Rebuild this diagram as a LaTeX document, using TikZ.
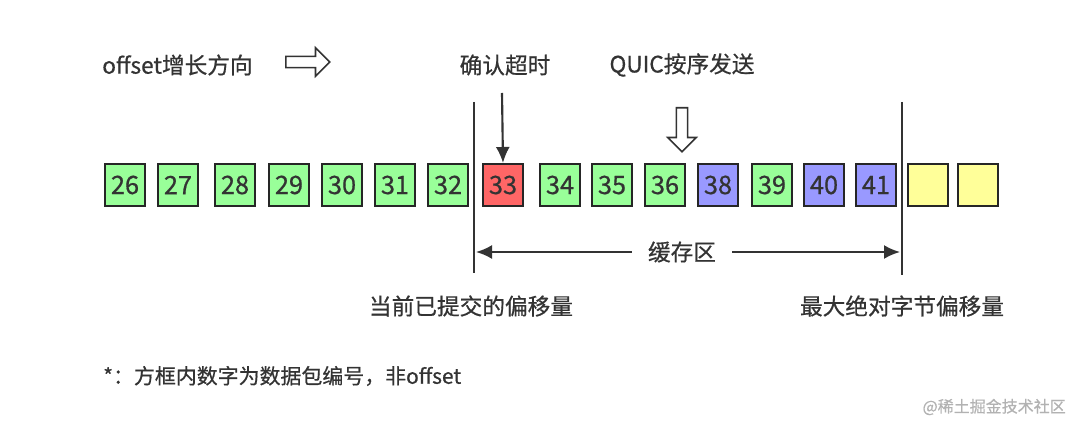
\documentclass[tikz,border=0pt]{standalone}
\usepackage{fontspec}
\setmainfont{Noto Sans CJK SC}[FakeBold=0.6]
\usetikzlibrary{arrows.meta,shapes.arrows,positioning}

\definecolor{pkgreen}{HTML}{99FF99}
\definecolor{pkred}{HTML}{FF6666}
\definecolor{pkblue}{HTML}{9999FF}
\definecolor{pkyellow}{HTML}{FFFF99}
\definecolor{inkgray}{HTML}{333333}

\tikzset{
  pkt/.style={draw=black!85,line width=1.5pt,minimum width=30pt,minimum height=31.5pt,
              inner sep=0pt,text=inkgray,font=\fontsize{19}{19}\selectfont},
  ok/.style={pkt,fill=pkgreen},
  lost/.style={pkt,fill=pkred},
  sent/.style={pkt,fill=pkblue},
  free/.style={pkt,fill=pkyellow},
  lbl/.style={text=inkgray,font=\fontsize{17}{17}\selectfont,inner sep=0pt},
  bound/.style={draw=inkgray,line width=1.6pt},
  hollow/.style={single arrow,draw=inkgray,line width=1.2pt,fill=white,inner sep=3.6pt,
                 single arrow head extend=6.5pt,minimum height=33pt}
}

\begin{document}
\begin{tikzpicture}[x=0.75pt,y=-0.75pt,>={Latex[length=12pt,width=10.5pt]}]
	\useasboundingbox (0,0) rectangle (1080,434);
	% packets
	\node[ok]	(p26)	at (125,185)	{26};
	\node[ok]	(p27)	at (178,185)	{27};
	\node[ok]	(p28)	at (235,185)	{28};
	\node[ok]	(p29)	at (289,185)	{29};
	\node[ok]	(p30)	at (342,185)	{30};
	\node[ok]	(p31)	at (395,185)	{31};
	\node[ok]	(p32)	at (448,185)	{32};
	\node[lost]	(p33)	at (503,185)	{33};
	\node[ok]	(p34)	at (560,185)	{34};
	\node[ok]	(p35)	at (612,185)	{35};
	\node[ok]	(p36)	at (665,185)	{36};
	\node[sent]	(p38)	at (718,185)	{38};
	\node[ok]	(p39)	at (772,185)	{39};
	\node[sent]	(p40)	at (824,185)	{40};
	\node[sent]	(p41)	at (876,185)	{41};
	\node[free]	(y1)	at (928,185)	{};
	\node[free]	(y2)	at (978,185)	{};

	% labels
	\node[lbl,anchor=west]	(grow)		at (102,65)	{offset增长方向};
	\node[hollow]			(growarr)	at (305,62)	{};
	\node[lbl]				(ackto)		at (505,65)	{确认超时};
	\node[lbl]				(inorder)	at (682,65)	{QUIC按序发送};
	\node[hollow,rotate=-90]	(sendarr)	at (682,127)	{};
	\node[lbl]				(buf)		at (682,252)	{缓存区};
	\node[lbl]				(commit)	at (471,306)	{当前已提交的偏移量};
	\node[lbl]				(maxoff)	at (902,306)	{最大绝对字节偏移量};
	\node[lbl,font=\fontsize{15.7}{15.7}\selectfont,anchor=west]
							(note)		at (103,376)	{*：方框内数字为数据包编号，非offset};
	\node[text=black!30,font=\fontsize{12}{12}\selectfont,inner sep=0pt,anchor=east]
							(wm)		at (1066,407)	{@稀土掘金技术社区};

	% boundaries
	\coordinate (ctop) at (474,102);
	\coordinate (cbot) at (474,273);
	\coordinate (mtop) at (902,102);
	\coordinate (mbot) at (902,275);
	\coordinate (acktop) at (502,93);
	\coordinate (bufl) at (476,252);
	\coordinate (bufr) at (900,252);
	\draw[bound] (ctop) -- (cbot);
	\draw[bound] (mtop) -- (mbot);
	\draw[bound,->] (acktop) -- (p33.north);
	\draw[bound,->] ([xshift=-12pt]buf.west) -- (bufl);
	\draw[bound,->] ([xshift=12pt]buf.east) -- (bufr);
\end{tikzpicture}
\end{document}
